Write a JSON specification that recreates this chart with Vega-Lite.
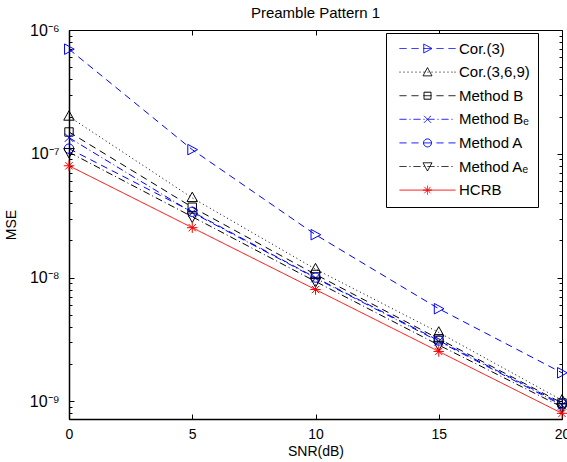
{
  "$schema": "https://vega.github.io/schema/vega-lite/v6.json",
  "width": 493,
  "height": 389,
  "autosize": {"type": "none"},
  "padding": {"left": 69, "top": 30, "right": 5, "bottom": 43},
  "background": "white",
  "title": {"text": "Preamble Pattern 1", "fontSize": 15, "fontWeight": "normal", "font": "Liberation Sans", "color": "black", "offset": 1},
  "data": {"values": [
    {"snr": 0, "mse": 7.0e-7, "series": "Cor.(3)"},
    {"snr": 5, "mse": 1.08e-7, "series": "Cor.(3)"},
    {"snr": 10, "mse": 2.22e-8, "series": "Cor.(3)"},
    {"snr": 15, "mse": 5.6e-9, "series": "Cor.(3)"},
    {"snr": 20, "mse": 1.7e-9, "series": "Cor.(3)"},
    {"snr": 0, "mse": 2.0e-7, "series": "Cor.(3,6,9)"},
    {"snr": 5, "mse": 4.4e-8, "series": "Cor.(3,6,9)"},
    {"snr": 10, "mse": 1.17e-8, "series": "Cor.(3,6,9)"},
    {"snr": 15, "mse": 3.6e-9, "series": "Cor.(3,6,9)"},
    {"snr": 20, "mse": 1.02e-9, "series": "Cor.(3,6,9)"},
    {"snr": 0, "mse": 1.5e-7, "series": "Method B"},
    {"snr": 5, "mse": 3.7e-8, "series": "Method B"},
    {"snr": 10, "mse": 1.06e-8, "series": "Method B"},
    {"snr": 15, "mse": 3.2e-9, "series": "Method B"},
    {"snr": 20, "mse": 9.7e-10, "series": "Method B"},
    {"snr": 0, "mse": 1.35e-7, "series": "Method Bₑ"},
    {"snr": 5, "mse": 3.35e-8, "series": "Method Bₑ"},
    {"snr": 10, "mse": 9.9e-9, "series": "Method Bₑ"},
    {"snr": 15, "mse": 3.05e-9, "series": "Method Bₑ"},
    {"snr": 20, "mse": 9.3e-10, "series": "Method Bₑ"},
    {"snr": 0, "mse": 1.1e-7, "series": "Method A"},
    {"snr": 5, "mse": 3.4e-8, "series": "Method A"},
    {"snr": 10, "mse": 1.0e-8, "series": "Method A"},
    {"snr": 15, "mse": 3.1e-9, "series": "Method A"},
    {"snr": 20, "mse": 9.5e-10, "series": "Method A"},
    {"snr": 0, "mse": 1.03e-7, "series": "Method Aₑ"},
    {"snr": 5, "mse": 3.1e-8, "series": "Method Aₑ"},
    {"snr": 10, "mse": 9.3e-9, "series": "Method Aₑ"},
    {"snr": 15, "mse": 2.85e-9, "series": "Method Aₑ"},
    {"snr": 20, "mse": 9.0e-10, "series": "Method Aₑ"},
    {"snr": 0, "mse": 8.0e-8, "series": "HCRB"},
    {"snr": 5, "mse": 2.53e-8, "series": "HCRB"},
    {"snr": 10, "mse": 8.0e-9, "series": "HCRB"},
    {"snr": 15, "mse": 2.53e-9, "series": "HCRB"},
    {"snr": 20, "mse": 8.0e-10, "series": "HCRB"}
  ]},
  "layer": [
    {
      "mark": {"type": "line", "strokeWidth": 1, "clip": false},
      "encoding": {
        "x": {"field": "snr", "type": "quantitative", "scale": {"domain": [0, 20], "nice": false, "zero": false},
          "axis": {"orient": "bottom", "values": [0, 5, 10, 15, 20], "tickSize": -5, "tickColor": "black", "tickWidth": 1, "labelPadding": 13, "labelFont": "Liberation Sans", "labelFontSize": 14, "labelColor": "black", "labelFlush": false, "labelOverlap": false, "domain": true, "domainColor": "black", "domainWidth": 1.5, "grid": false, "title": "SNR(dB)", "titleFont": "Liberation Sans", "titleFontSize": 14, "titleFontWeight": "normal", "titleColor": "black", "titlePadding": 3}},
        "y": {"field": "mse", "type": "quantitative", "scale": {"type": "log", "domain": [7.2e-10, 1e-6], "nice": false},
          "axis": {"orient": "left", "values": [8e-10, 9e-10, 1e-9, 2e-9, 3e-9, 4e-9, 5e-9, 6e-9, 7e-9, 8e-9, 9e-9, 1e-8, 2e-8, 3e-8, 4e-8, 5e-8, 6e-8, 7e-8, 8e-8, 9e-8, 1e-7, 2e-7, 3e-7, 4e-7, 5e-7, 6e-7, 7e-7, 8e-7, 9e-7, 1e-6],
            "labelExpr": "abs(log(datum.value)/LN10 - round(log(datum.value)/LN10)) < 0.001 ? (round(log(datum.value)/LN10) == -6 ? '10⁻⁶' : round(log(datum.value)/LN10) == -7 ? '10⁻⁷' : round(log(datum.value)/LN10) == -8 ? '10⁻⁸' : '10⁻⁹') : ''",
            "tickSize": {"condition": {"test": "abs(log(datum.value)/LN10 - round(log(datum.value)/LN10)) < 0.001", "value": -5}, "value": -3},
            "tickColor": "black", "tickWidth": 1, "labelPadding": 15, "labelFont": "Liberation Sans", "labelFontSize": 16, "labelColor": "black", "labelOverlap": false, "labelFlush": false, "domain": true, "domainColor": "black", "domainWidth": 1.5, "grid": false, "title": "MSE", "titleFont": "Liberation Sans", "titleFontSize": 14, "titleFontWeight": "normal", "titleColor": "black", "titlePadding": 11}},
        "color": {"field": "series", "type": "nominal",
          "scale": {"domain": ["Cor.(3)", "Cor.(3,6,9)", "Method B", "Method Bₑ", "Method A", "Method Aₑ", "HCRB"], "range": ["#0000ff", "#000000", "#000000", "#0000ff", "#0000ff", "#000000", "#ff0000"]},
          "legend": {
            "title": null, "orient": "none", "legendX": 317, "legendY": 3,
            "fillColor": "white", "strokeColor": "black", "padding": 8,
            "labelFont": "Liberation Sans", "labelFontSize": 15, "labelColor": "black",
            "labelExpr": "datum.label + '        '",
            "symbolSize": 100, "symbolOffset": 26, "labelOffset": 24, "rowPadding": 7.6,
            "symbolStrokeWidth": 1,
            "encode": {"symbols": {"update": {
              "shape": {"signal": "datum.value === 'Cor.(3)' ? 'M-5.6,0H-4.2M-3.2,0H-1.8M-0.8,0H0.8M1.8,0H3.2M4.2,0H5.6M-0.75,-0.9L0.9,0L-0.75,0.9Z' : datum.value === 'Cor.(3,6,9)' ? 'M-5.6,0H-5.4M-4.8,0H-4.6M-4,0H-3.8M-3.2,0H-3M-2.4,0H-2.2M-1.6,0H-1.4M-0.8,0H-0.6M0,0H0.2M0.8,0H1M1.6,0H1.8M2.4,0H2.6M3.2,0H3.4M4,0H4.2M4.8,0H5M5.4,0H5.6M0,-0.9L0.9,0.75L-0.9,0.75Z' : datum.value === 'Method B' ? 'M-5.6,0H-4.2M-3.2,0H-1.8M-0.8,0H0.8M1.8,0H3.2M4.2,0H5.6M-0.7,-0.7H0.7V0.7H-0.7Z' : datum.value === 'Method Bₑ' ? 'M-5.6,0H-4.2M-3.6,0H-3.4M-2.8,0H-1.4M-0.8,0H-0.6M0,0H1.4M2,0H2.2M2.8,0H4.2M4.8,0H5M-0.7,-0.7L0.7,0.7M-0.7,0.7L0.7,-0.7' : datum.value === 'Method A' ? 'M-5.6,0H-4.2M-3.2,0H-1.8M-0.8,0H0.8M1.8,0H3.2M4.2,0H5.6M-0.8,0A0.8,0.8,0,1,0,0.8,0A0.8,0.8,0,1,0,-0.8,0' : datum.value === 'Method Aₑ' ? 'M-5.6,0H-4.2M-3.6,0H-3.4M-2.8,0H-1.4M-0.8,0H-0.6M0,0H1.4M2,0H2.2M2.8,0H4.2M4.8,0H5M0,0.9L0.9,-0.75L-0.9,-0.75Z' : 'M-5.6,0H5.6M-0.9,0H0.9M0,-0.9V0.9M-0.64,-0.64L0.64,0.64M-0.64,0.64L0.64,-0.64'"},
              "fill": {"value": "transparent"},
              "strokeDash": {"value": [1, 0]},
              "size": {"value": 100},
              "strokeWidth": {"value": 1},
              "opacity": {"value": 1}
            }}}
          }},
        "strokeDash": {"field": "series", "type": "nominal",
          "scale": {"domain": ["HCRB", "Method Aₑ", "Method A", "Method Bₑ", "Method B", "Cor.(3,6,9)", "Cor.(3)"], "range": [[1, 0], [7, 3, 1, 3], [7, 5], [7, 3, 1, 3], [7, 5], [1, 3], [7, 5]]},
          "legend": null}
      }
    },
    {
      "mark": {"type": "point", "filled": false, "size": 110, "strokeWidth": 1, "opacity": 1, "clip": false},
      "encoding": {
        "x": {"field": "snr", "type": "quantitative", "scale": {"domain": [0, 20], "nice": false, "zero": false},
          "axis": {"orient": "top", "values": [0, 5, 10, 15, 20], "tickSize": -5, "tickColor": "black", "tickWidth": 1, "labels": false, "domain": false, "grid": false, "title": null}},
        "y": {"field": "mse", "type": "quantitative", "scale": {"type": "log", "domain": [7.2e-10, 1e-6], "nice": false},
          "axis": {"orient": "right", "values": [8e-10, 9e-10, 1e-9, 2e-9, 3e-9, 4e-9, 5e-9, 6e-9, 7e-9, 8e-9, 9e-9, 1e-8, 2e-8, 3e-8, 4e-8, 5e-8, 6e-8, 7e-8, 8e-8, 9e-8, 1e-7, 2e-7, 3e-7, 4e-7, 5e-7, 6e-7, 7e-7, 8e-7, 9e-7, 1e-6],
            "tickSize": {"condition": {"test": "abs(log(datum.value)/LN10 - round(log(datum.value)/LN10)) < 0.001", "value": -5}, "value": -3},
            "tickColor": "black", "tickWidth": 1, "labels": false, "domain": false, "grid": false, "title": null}},
        "color": {"field": "series", "type": "nominal",
          "scale": {"domain": ["Cor.(3)", "Cor.(3,6,9)", "Method B", "Method Bₑ", "Method A", "Method Aₑ", "HCRB"], "range": ["#0000ff", "#000000", "#000000", "#0000ff", "#0000ff", "#000000", "#ff0000"]},
          "legend": null},
        "shape": {"field": "series", "type": "nominal",
          "scale": {"domain": ["HCRB", "Method Aₑ", "Method A", "Method Bₑ", "Method B", "Cor.(3,6,9)", "Cor.(3)"],
            "range": ["M-1,0H1M0,-1V1M-0.7,-0.7L0.7,0.7M-0.7,0.7L0.7,-0.7", "M0,1.1L1,-0.7L-1,-0.7Z", "M-0.9,0A0.9,0.9,0,1,0,0.9,0A0.9,0.9,0,1,0,-0.9,0", "M-0.8,-0.8L0.8,0.8M-0.8,0.8L0.8,-0.8", "M-0.8,-0.8H0.8V0.8H-0.8Z", "M0,-1.1L1,0.7L-1,0.7Z", "M-0.85,-1L1,0L-0.85,1Z"]},
          "legend": null}
      }
    }
  ],
  "resolve": {"axis": {"x": "independent", "y": "independent"}},
  "config": {
    "view": {"stroke": "black", "strokeWidth": 1},
    "font": "Liberation Sans"
  }
}
